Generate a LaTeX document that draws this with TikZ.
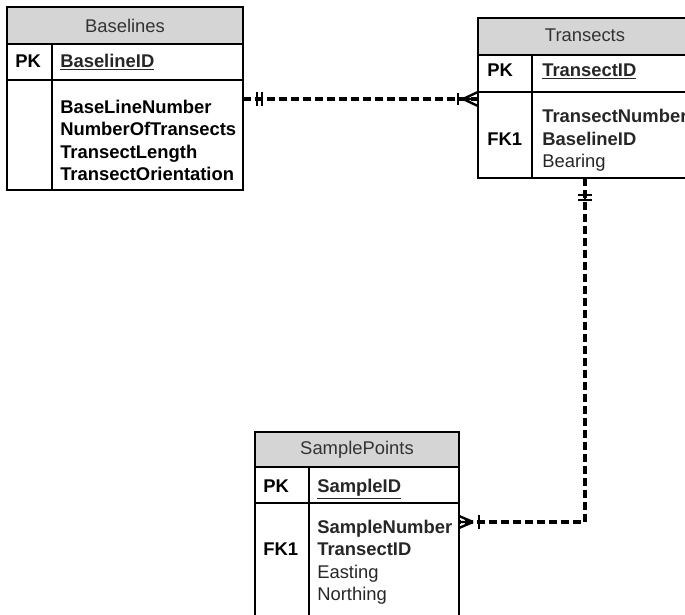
\documentclass[tikz,border=0pt]{standalone}
\usepackage{fontspec}
\setmainfont{Liberation Sans}

\newcommand{\tablefont}{\fontsize{13.8pt}{16.9pt}\selectfont}
\newcommand{\keyfield}[1]{\textbf{\underline{#1}}}
\tikzset{
  tablebox/.style={line width=1.4pt},
  headfill/.style={fill=gray!33},
  title/.style={anchor=base,inner sep=0.75pt,font=\tablefont,text=black!80},
  keytag/.style={anchor=base west,inner sep=0.75pt,font=\tablefont\bfseries},
  field/.style={anchor=base west,inner sep=0.75pt,font=\tablefont,text=black!85},
  relline/.style={line width=2.6pt,dash pattern=on 6pt off 3pt},
  marker/.style={line width=2.2pt},
  crowfoot/.style={line width=1.8pt},
}

\begin{document}
\begin{tikzpicture}[x=0.75pt,y=0.75pt,yscale=-1,xscale=1]
	\useasboundingbox (0,0) rectangle (685,614);
	% Baselines
	\draw [tablebox,headfill] (7,7) rectangle (243,44);
	\draw [tablebox] (7,44) rectangle (243,190) (7,80) -- (243,80) (52,44) -- (52,190);
	\node [title] (bl-title) at (125,32) {Baselines};
	\node [keytag] (bl-pk) at (14,67) {PK};
	\node [field] (bl-id) at (59,67) {\keyfield{BaselineID}};
	\foreach \t [count=\i] in {BaseLineNumber,NumberOfTransects,TransectLength,TransectOrientation}
		\node [field,text=black] (bl-f\i) at (59,90.5+22.5*\i) {\textbf{\t}};
	% Transects
	\draw [tablebox,headfill] (478,18) rectangle (692,55);
	\draw [tablebox] (478,55) rectangle (692,178) (478,92) -- (692,92) (532,55) -- (532,178);
	\node [title] (tr-title) at (585,41.5) {Transects};
	\node [keytag] (tr-pk) at (486,76.5) {PK};
	\node [field] (tr-id) at (541,76.5) {\keyfield{TransectID}};
	\node [keytag] (tr-fk) at (486,145) {FK1};
	\foreach \t [count=\i] in {{\textbf{TransectNumber}},{\textbf{BaselineID}},Bearing}
		\node [field] (tr-f\i) at (541,100.2+22.5*\i) {\t};
	% SamplePoints
	\draw [tablebox,headfill] (255,432) rectangle (459,467);
	\draw [tablebox] (255,467) rectangle (459,620) (255,503) -- (459,503) (309,467) -- (309,620);
	\node [title] (sp-title) at (357,454) {SamplePoints};
	\node [keytag] (sp-pk) at (262,492.5) {PK};
	\node [field] (sp-id) at (316,492.5) {\keyfield{SampleID}};
	\node [keytag] (sp-fk) at (262,555.5) {FK1};
	\foreach \t [count=\i] in {{\textbf{SampleNumber}},{\textbf{TransectID}},Easting,Northing}
		\node [field] (sp-f\i) at (316,510.5+22.5*\i) {\t};
	% relationships
	\coordinate (bl-rel) at (243,99);
	\coordinate (tr-rel) at (478,99);
	\coordinate (tr-down) at (585,178);
	\coordinate (sp-rel) at (459,522);
	\draw [relline] (bl-rel) -- (tr-rel);
	\draw [marker,shift={(bl-rel)}] (14,-7) -- (14,7) (19,-7) -- (19,7) (14,0) -- (19,0);
	\draw [marker,shift={(tr-rel)}] (-20,-6) -- (-20,6);
	\draw [crowfoot,shift={(tr-rel)}] (-15,0) -- (0,-7) (-15,0) -- (0,7) (-15,0) -- (0,0);
	\draw [relline] (tr-down) |- (sp-rel);
	\draw [marker,shift={(tr-down)}] (-7,17) -- (7,17) (-7,22) -- (7,22) (0,17) -- (0,22);
	\draw [marker,shift={(sp-rel)}] (20,-7) -- (20,7);
	\draw [crowfoot,shift={(sp-rel)}] (14,0) -- (0,-6) (14,0) -- (0,6) (14,0) -- (0,0);
\end{tikzpicture}
\end{document}
